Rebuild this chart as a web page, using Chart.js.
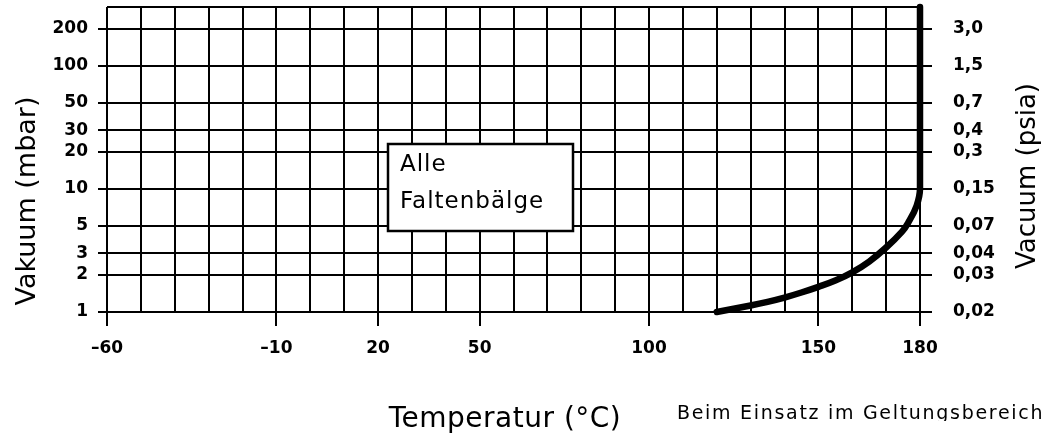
<!DOCTYPE html>
<html>
<head>
<meta charset="utf-8">
<script src="https://cdn.jsdelivr.net/npm/chart.js@4/dist/chart.umd.min.js"></script>
<style>
	html, body { margin: 0; padding: 0; background: #fff; }
	#vacuumChart { display: block; }
</style>
</head>
<body>
<canvas id="vacuumChart" width="1047" height="437"></canvas>
<script>
// curve (temperature in °C, vacuum in mbar)
var temperature = [120, 130, 135, 140, 145, 150, 155, 160, 165, 170, 174.7, 176.5, 179, 180, 180];
var vacuum = [1, 1.13, 1.21, 1.31, 1.44, 1.6, 1.8, 2.1, 2.57, 3.34, 4.5, 5.3, 7.3, 10, 300];

// axes
var tempGrid = [-60, -50, -40, -30, -20, -10, 0, 10, 20, 30, 40, 50, 60, 70, 80, 90, 100, 110, 120, 130, 140, 150, 160, 170, 180];
var tempLabels = [-60, -10, 20, 50, 100, 150, 180];
var mbarTicks = [1, 2, 3, 5, 10, 20, 30, 50, 100, 200];
var mbarLabels = ['1', '2', '3', '5', '10', '20', '30', '50', '100', '200'];
var psiaLabels = ['0,02', '0,03', '0,04', '0,07', '0,15', '0,3', '0,4', '0,7', '1,5', '3,0'];
var mbarMax = 300;

var FONT = 'DejaVu Sans';
var tickFont = { family : FONT, size : 17, weight : 'bold' };

function fixedTicks(values) {
	return function(scale) {
		scale.ticks = values.map(function(v) {
			return { value : v };
		});
	};
}

function fixedSize(prop, size) {
	return function(scale) {
		scale[prop] = size;
		scale.paddingTop = 0;
		scale.paddingBottom = 0;
		scale.paddingLeft = 0;
		scale.paddingRight = 0;
	};
}

var annotations = {
	id : 'annotations',
	afterDatasetsDraw : function(chart) {
		var ctx = chart.ctx;
		ctx.save();
		ctx.fillStyle = '#000';
		ctx.strokeStyle = '#000';

		// label box
		ctx.fillStyle = '#fff';
		ctx.fillRect(388, 144, 185, 87);
		ctx.lineWidth = 2.5;
		ctx.strokeRect(388, 144, 185, 87);
		ctx.fillStyle = '#000';
		ctx.font = '23px "' + FONT + '"';
		ctx.letterSpacing = '1px';
		ctx.textAlign = 'left';
		ctx.textBaseline = 'alphabetic';
		ctx.fillText('Alle', 400, 171);
		ctx.fillText('Faltenbälge', 400, 208);

		// axis titles
		ctx.letterSpacing = '0px';
		ctx.font = '27px "' + FONT + '"';
		ctx.textAlign = 'center';
		ctx.save();
		ctx.translate(35, 201);
		ctx.rotate(-Math.PI / 2);
		ctx.fillText('Vakuum (mbar)', 0, 0);
		ctx.restore();

		ctx.font = '26px "' + FONT + '"';
		ctx.save();
		ctx.translate(1035, 176);
		ctx.rotate(-Math.PI / 2);
		ctx.fillText('Vacuum (psia)', 0, 0);
		ctx.restore();

		ctx.font = '28px "' + FONT + '"';
		ctx.letterSpacing = '0.5px';
		ctx.fillText('Temperatur (°C)', 505, 427);

		// note at the bottom, cut off like the original
		ctx.save();
		ctx.beginPath();
		ctx.rect(600, 395, 447, 26);
		ctx.clip();
		ctx.font = '19px "' + FONT + '"';
		ctx.letterSpacing = '1.7px';
		ctx.textAlign = 'left';
		ctx.fillText('Beim Einsatz im Geltungsbereich', 677, 419);
		ctx.restore();

		ctx.restore();
	}
};

var chartdata = {
	datasets : [ {
		data : temperature.map(function(t, i) {
			return { x : t, y : vacuum[i] };
		}),
		tension : 0.4,
		borderColor : '#000',
		borderWidth : 6.5,
		borderCapStyle : 'round',
		borderJoinStyle : 'round',
		pointRadius : 0,
		fill : false,
		clip : false,
		xAxisID : 'x',
		yAxisID : 'y'
	} ]
};

var vacuumChart = new Chart(document.getElementById('vacuumChart'), {
	type : 'line',
	data : chartdata,
	plugins : [ annotations ],
	options : {
		responsive : false,
		animation : false,
		events : [],
		layout : {
			padding : { top : 7, left : 0, right : 0, bottom : 0 }
		},
		plugins : {
			legend : { display : false },
			tooltip : { enabled : false }
		},
		scales : {
			x : {
				type : 'linear',
				position : 'bottom',
				min : -60,
				max : 180,
				afterBuildTicks : fixedTicks(tempGrid),
				afterFit : fixedSize('height', 125),
				ticks : {
					autoSkip : false,
					maxRotation : 0,
					padding : 12,
					color : '#000',
					font : tickFont,
					callback : function(value) {
						return tempLabels.indexOf(value) >= 0 ? String(value).replace('-', '\u2013') : '';
					}
				},
				grid : {
					color : '#000',
					lineWidth : 2,
					tickLength : 14,
					tickWidth : 2,
					tickColor : function(c) {
						return c.tick && tempLabels.indexOf(c.tick.value) >= 0 ? '#000' : 'rgba(0,0,0,0)';
					}
				},
				border : { display : true, color : '#000', width : 2 }
			},
			y : {
				type : 'logarithmic',
				position : 'left',
				min : 1,
				max : mbarMax,
				afterBuildTicks : fixedTicks(mbarTicks.concat([ mbarMax ])),
				afterFit : fixedSize('width', 107),
				ticks : {
					autoSkip : false,
					padding : 10,
					color : '#000',
					font : tickFont,
					callback : function(value, index) {
						return index < mbarLabels.length ? mbarLabels[index] : '';
					}
				},
				grid : {
					color : '#000',
					lineWidth : 2,
					tickLength : 9,
					tickWidth : 2,
					tickColor : function(c) {
						return c.tick && c.tick.value === mbarMax ? 'rgba(0,0,0,0)' : '#000';
					}
				},
				border : { display : false }
			},
			y2 : {
				type : 'logarithmic',
				position : 'right',
				min : 1,
				max : mbarMax,
				afterBuildTicks : fixedTicks(mbarTicks.concat([ mbarMax ])),
				afterFit : fixedSize('width', 127),
				ticks : {
					autoSkip : false,
					padding : 21,
					color : '#000',
					font : tickFont,
					callback : function(value, index) {
						return index < psiaLabels.length ? psiaLabels[index] : '';
					}
				},
				grid : {
					drawOnChartArea : false,
					color : '#000',
					lineWidth : 2,
					tickLength : 12,
					tickWidth : 2,
					tickColor : function(c) {
						return c.tick && c.tick.value === mbarMax ? 'rgba(0,0,0,0)' : '#000';
					}
				},
				border : { display : false }
			}
		}
	}
});
</script>
</body>
</html>
